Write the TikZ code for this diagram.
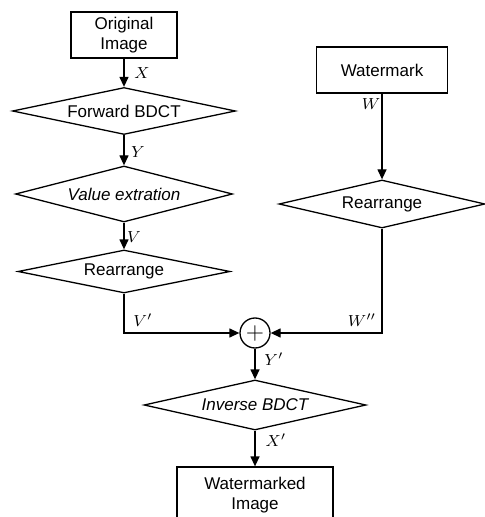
\documentclass[tikz,border=0pt]{standalone}
\usepackage{fontspec}
\setmainfont{Liberation Sans}
\usetikzlibrary{arrows.meta, shapes.geometric}

\begin{document}
\begin{tikzpicture}[x=0.5pt, y=-0.5pt, line width=0.65pt,
    block/.style={draw, rectangle, inner sep=0pt, align=center, font=\fontsize{8.5}{10}\selectfont},
    proc/.style={draw, diamond, aspect=4.5, inner sep=0pt, font=\fontsize{8.5}{10}\selectfont},
    flow/.style={-{Triangle[length=5pt, width=4.5pt]}},
    lbl/.style={font=\fontsize{8}{9}\selectfont, inner sep=0pt}]
    \useasboundingbox (0,0) rectangle (485,517);
    \clip (0,0) rectangle (485,517);
    % Image path
    \node[block, minimum width=53pt, minimum height=23pt] (orig) at (124,35) {Original\\Image};
    \node[proc, aspect=4.7, minimum width=111.5pt, minimum height=23.5pt] (fwd) at (124,111) {Forward BDCT};
    \node[proc, aspect=3.9, minimum width=108.5pt, minimum height=28pt] (val) at (124,194) {\itshape Value extration};
    \node[proc, aspect=4.9, minimum width=106pt, minimum height=21.5pt] (rl) at (124,271.5) {Rearrange};
    % Watermark path
    \node[block, minimum width=65.5pt, minimum height=23pt] (wm) at (382,70) {Watermark};
    \node[proc, aspect=4.3, minimum width=103pt, minimum height=24pt] (rr) at (382,204) {Rearrange};
    % Embedding and output
    \node[draw, circle, minimum size=15pt, inner sep=0pt, font=\large] (sum) at (255,333) {$+$};
    \node[proc, aspect=4.4, minimum width=111pt, minimum height=25pt] (inv) at (255,405) {\itshape Inverse BDCT};
    \node[block, minimum width=78pt, minimum height=28pt] (out) at (255,495) {Watermarked\\Image};
    % Signal labels
    \node[lbl] (lx) at (142,73) {$X$};
    \node[lbl] (ly) at (138,152) {$Y$};
    \node[lbl] (lv) at (134,237) {$V$};
    \node[lbl] (lvp) at (143,320) {$V'$};
    \node[lbl] (lw) at (371,104) {$W$};
    \node[lbl] (lwpp) at (362,320) {$W''$};
    \node[lbl] (lyp) at (274,359) {$Y'$};
    \node[lbl] (lxp) at (276,440) {$X'$};
    % Connectors
    \draw[flow] (orig) -- (fwd);
    \draw[flow] (fwd) -- (val);
    \draw[flow] (val) -- (rl);
    \draw[flow] (wm) -- (rr);
    \draw[flow] (rl.south) |- (sum.west);
    \draw[flow] (rr.south) |- (sum.east);
    \draw[flow] (sum) -- (inv);
    \draw[flow] (inv) -- (out);
\end{tikzpicture}
\end{document}
